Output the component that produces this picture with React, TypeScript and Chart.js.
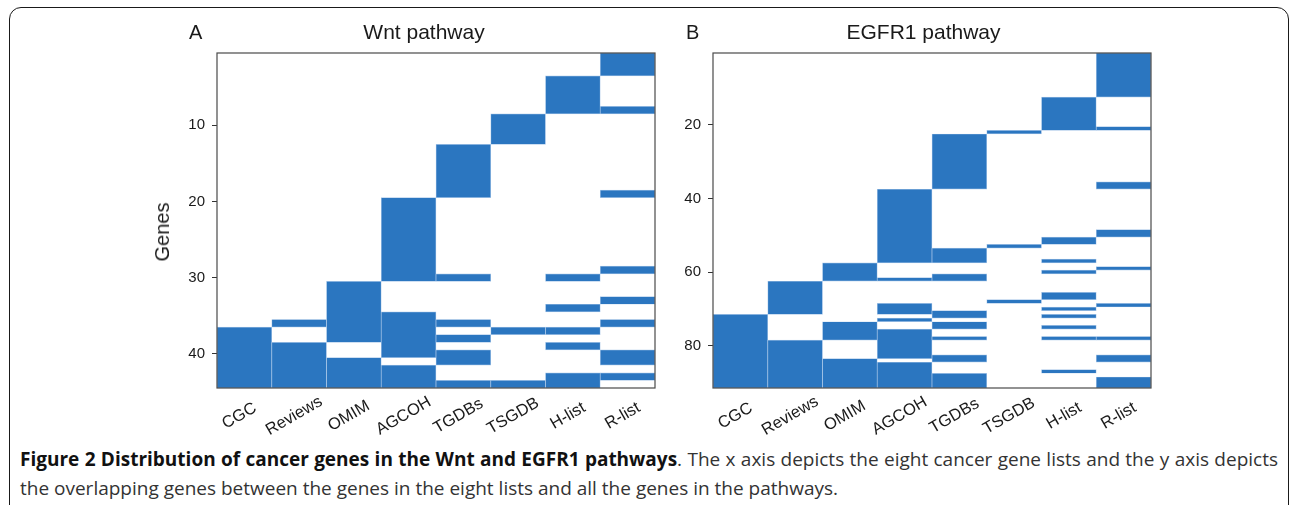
import React, { useEffect, useRef } from "react";
import { Chart, registerables } from "chart.js";

Chart.register(...registerables);

// ---------- data ----------
const LISTS = ["CGC", "Reviews", "OMIM", "AGCOH", "TGDBs", "TSGDB", "H-list", "R-list"];

// Wnt pathway: 44 genes; runs of member genes [first, last] per list
const WNT_GENE_COUNT = 44;
const WNT_TICKS = [10, 20, 30, 40];
const WNT_CGC = [[37, 44]];
const WNT_REVIEWS = [[36, 36], [39, 44]];
const WNT_OMIM = [[31, 38], [41, 44]];
const WNT_AGCOH = [[20, 30], [35, 40], [42, 44]];
const WNT_TGDBS = [[13, 19], [30, 30], [36, 36], [38, 38], [40, 41], [44, 44]];
const WNT_TSGDB = [[9, 12], [37, 37], [44, 44]];
const WNT_HLIST = [[4, 8], [30, 30], [34, 34], [37, 37], [39, 39], [43, 44]];
const WNT_RLIST = [[1, 3], [8, 8], [19, 19], [29, 29], [33, 33], [36, 36], [40, 41], [43, 43]];

// EGFR1 pathway: 91 genes
const EGFR_GENE_COUNT = 91;
const EGFR_TICKS = [20, 40, 60, 80];
const EGFR_CGC = [[72, 91]];
const EGFR_REVIEWS = [[63, 71], [79, 91]];
const EGFR_OMIM = [[58, 62], [74, 78], [84, 91]];
const EGFR_AGCOH = [[38, 57], [62, 62], [69, 71], [73, 73], [76, 83], [85, 91]];
const EGFR_TGDBS = [[23, 37], [54, 57], [61, 62], [71, 72], [74, 75], [78, 78], [83, 84], [88, 91]];
const EGFR_TSGDB = [[22, 22], [53, 53], [68, 68]];
const EGFR_HLIST = [[13, 21], [51, 52], [57, 57], [60, 60], [66, 67], [70, 70], [72, 72], [75, 75], [78, 78], [87, 87]];
const EGFR_RLIST = [[1, 12], [21, 21], [36, 37], [49, 50], [59, 59], [69, 69], [78, 78], [83, 84], [89, 91]];

// ---------- styles ----------
const BLUE = "#2b76c0";
const EDGE = "#a9c7e8";
const AXIS_FONT = "'Liberation Sans', Arial, sans-serif";
const TEXT = "#1a1a1a";

const framePlugin = {
  id: "frame",
  afterDraw(chart: any) {
    const { ctx, chartArea } = chart;
    ctx.save();
    ctx.strokeStyle = "#4a4a4a";
    ctx.lineWidth = 1.2;
    ctx.strokeRect(chartArea.left, chartArea.top, chartArea.right - chartArea.left, chartArea.bottom - chartArea.top);
    ctx.restore();
  },
};

// rotated category labels, centred on the tick (as in the original figure)
const xLabelPlugin = {
  id: "xLabels",
  afterDraw(chart: any) {
    const sc = chart.scales.x;
    const ctx = chart.ctx;
    ctx.save();
    ctx.font = `16.5px ${AXIS_FONT}`;
    ctx.fillStyle = TEXT;
    ctx.textAlign = "center";
    ctx.textBaseline = "middle";
    sc.ticks.forEach((t: any, i: number) => {
      const x = sc.getPixelForTick(i) - 5;
      const y = chart.chartArea.bottom + 28;
      ctx.save();
      ctx.translate(x, y);
      ctx.rotate(-Math.PI / 6);
      ctx.fillText(String(sc.getLabelForValue(t.value)), 0, 0);
      ctx.restore();
    });
    ctx.restore();
  },
};

type PanelSpec = {
  n: number;
  ticks: number[];
  runs: number[][][];
  padLeft: number;
  padRight: number;
  yWidth: number;
  xHeight: number;
};

function buildConfig(p: PanelSpec): any {
  const data: any[] = [];
  p.runs.forEach((runs, i) => {
    runs.forEach(([s, e]) => data.push({ x: LISTS[i], y: [s - 0.5, e + 0.5] }));
  });
  return {
    type: "bar",
    data: {
      labels: LISTS,
      datasets: [
        {
          data,
          backgroundColor: BLUE,
          borderColor: EDGE,
          borderWidth: 0.7,
          borderSkipped: false,
          barPercentage: 1,
          categoryPercentage: 1,
          grouped: false,
        },
      ],
    },
    options: {
      animation: false,
      responsive: false,
      maintainAspectRatio: false,
      layout: { padding: { left: p.padLeft, right: p.padRight, top: 53, bottom: 0 } },
      plugins: {
        legend: { display: false },
        tooltip: { enabled: false },
        title: { display: false },
      },
      scales: {
        x: {
          type: "category",
          offset: true,
          grid: { display: false, drawTicks: false },
          border: { display: false },
          ticks: { display: false, autoSkip: false },
          afterFit: (s: any) => {
            s.height = p.xHeight;
          },
        },
        y: {
          type: "linear",
          reverse: true,
          min: 0.5,
          max: p.n + 0.5,
          grid: { display: true, drawOnChartArea: false, drawTicks: true, tickLength: 5, color: "#333" },
          border: { display: false },
          ticks: {
            padding: 7,
            color: TEXT,
            font: { family: AXIS_FONT, size: 15 },
          },
          afterBuildTicks: (s: any) => {
            s.ticks = p.ticks.map((v) => ({ value: v }));
          },
          afterFit: (s: any) => {
            s.width = p.yWidth;
          },
        },
      },
    },
    plugins: [framePlugin, xLabelPlugin],
  };
}

function Panel({ spec, left, width, height }: { spec: PanelSpec; left: number; width: number; height: number }) {
  const ref = useRef<HTMLCanvasElement | null>(null);
  useEffect(() => {
    if (!ref.current) return;
    const chart = new Chart(ref.current, buildConfig(spec));
    return () => chart.destroy();
  }, []);
  return (
    <canvas
      ref={ref}
      width={width}
      height={height}
      style={{ position: "absolute", left, top: 0, width, height }}
    />
  );
}

const WNT_SPEC: PanelSpec = {
  n: WNT_GENE_COUNT,
  ticks: WNT_TICKS,
  runs: [WNT_CGC, WNT_REVIEWS, WNT_OMIM, WNT_AGCOH, WNT_TGDBS, WNT_TSGDB, WNT_HLIST, WNT_RLIST],
  padLeft: 140,
  padRight: 35,
  yWidth: 77,
  xHeight: 52,
};

const EGFR_SPEC: PanelSpec = {
  n: EGFR_GENE_COUNT,
  ticks: EGFR_TICKS,
  runs: [EGFR_CGC, EGFR_REVIEWS, EGFR_OMIM, EGFR_AGCOH, EGFR_TGDBS, EGFR_TSGDB, EGFR_HLIST, EGFR_RLIST],
  padLeft: 0,
  padRight: 29,
  yWidth: 43,
  xHeight: 52,
};

function Label({ x, y, text, size, center }: { x: number; y: number; text: string; size: number; center?: boolean }) {
  return (
    <div
      style={{
        position: "absolute",
        left: x,
        top: y,
        transform: center ? "translate(-50%, 0)" : undefined,
        fontFamily: AXIS_FONT,
        fontSize: size,
        lineHeight: 1,
        color: TEXT,
        whiteSpace: "nowrap",
      }}
    >
      {text}
    </div>
  );
}

export default function App() {
  const capFont = "'Open Sans', 'Noto Sans', sans-serif";
  return (
    <div style={{ position: "absolute", left: 0, top: 0, width: 1292, height: 505, background: "#fff", overflow: "hidden" }}>
      <div
        style={{
          position: "absolute",
          left: 9,
          top: 7,
          width: 1280,
          height: 510,
          border: "1.5px solid #1a1a1a",
          borderRadius: 12,
          boxSizing: "border-box",
        }}
      />
      <Panel spec={WNT_SPEC} left={0} width={690} height={440} />
      <Panel spec={EGFR_SPEC} left={670} width={510} height={440} />
      <Label x={189} y={22.4} text="A" size={20} />
      <Label x={686} y={22.4} text="B" size={20} />
      <Label x={424} y={21} text="Wnt pathway" size={21} center />
      <Label x={923.5} y={21} text="EGFR1 pathway" size={21} center />
      <div
        style={{
          position: "absolute",
          left: 162,
          top: 232,
          transform: "translate(-50%, -50%) rotate(-90deg)",
          fontFamily: AXIS_FONT,
          fontSize: 20,
          lineHeight: 1,
          color: TEXT,
          whiteSpace: "nowrap",
        }}
      >
        Genes
      </div>
      <div
        style={{
          position: "absolute",
          left: 20,
          top: 450,
          width: 1258,
          fontFamily: capFont,
          fontSize: 19,
          lineHeight: 1,
          color: "#333",
          whiteSpace: "nowrap",
          textAlign: "justify",
          textAlignLast: "justify" as any,
        }}
      >
        <span style={{ fontWeight: 700, color: "#111" }}>Figure 2 Distribution of cancer genes in the Wnt and EGFR1 pathways</span>. The x axis depicts the eight cancer gene lists and the y axis depicts
      </div>
      <div
        style={{
          position: "absolute",
          left: 20,
          top: 479,
          fontFamily: capFont,
          fontSize: 19,
          lineHeight: 1,
          color: "#333",
          whiteSpace: "nowrap",
        }}
      >
        the overlapping genes between the genes in the eight lists and all the genes in the pathways.
      </div>
    </div>
  );
}
